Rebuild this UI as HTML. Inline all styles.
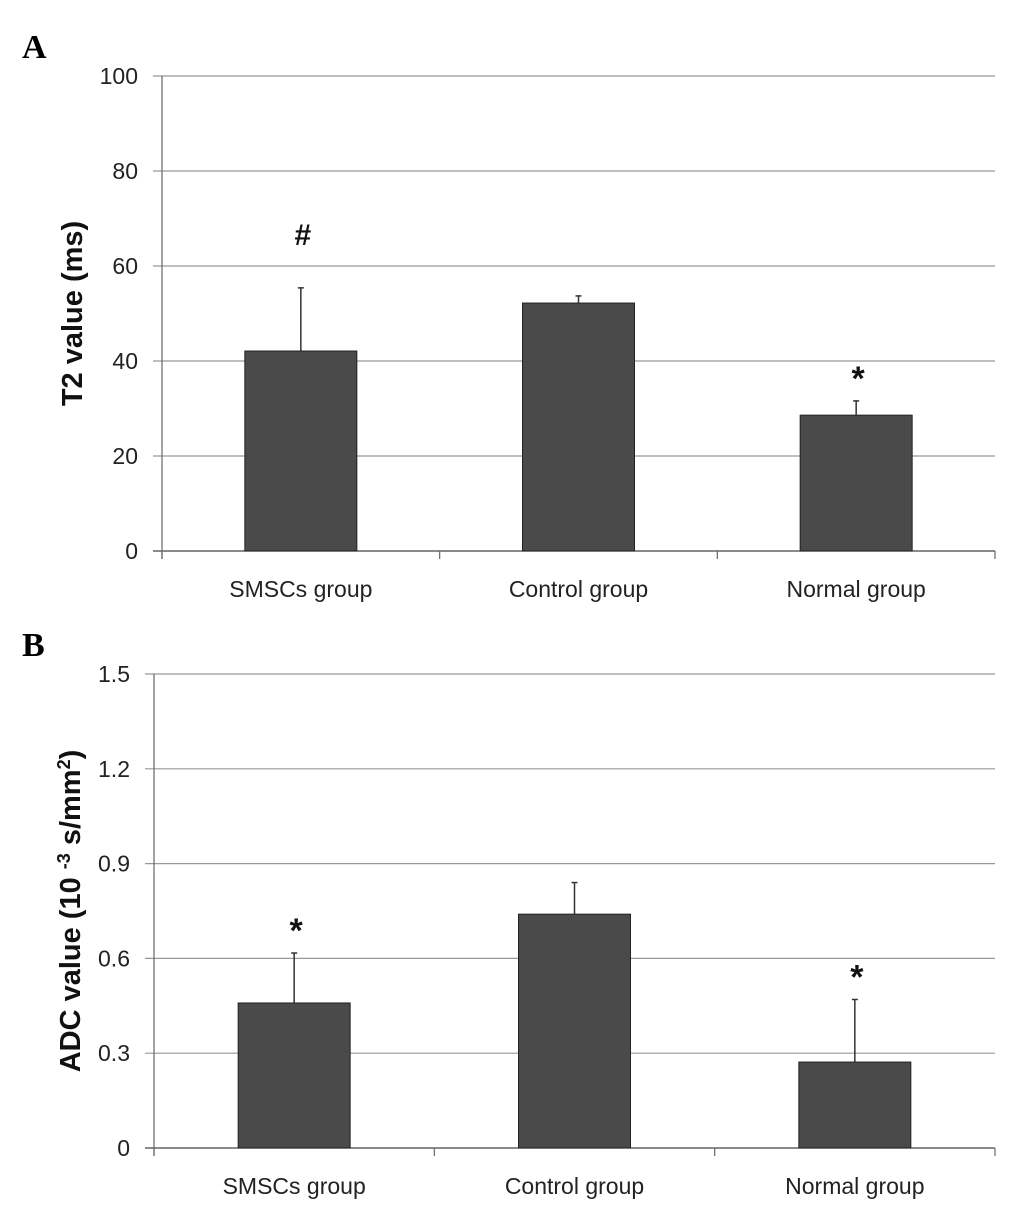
<!DOCTYPE html>
<html><head><meta charset="utf-8"><style>
body{margin:0;background:#fff;}
svg text{font-family:"Liberation Sans",sans-serif;}
</style></head><body>
<svg id="c" width="1033" height="1214" viewBox="0 0 1033 1214" xmlns="http://www.w3.org/2000/svg">
<text x="22" y="58" font-family="Liberation Serif" font-weight="bold" font-size="34" style="font-family:'Liberation Serif',serif">A</text>
<text x="22" y="656" font-family="Liberation Serif" font-weight="bold" font-size="34" style="font-family:'Liberation Serif',serif">B</text>
</svg>
<script>
const categories=["SMSCs group","Control group","Normal group"];
const t2Values=[42.1,52.2,28.6];
const t2Errors=[13.3,1.5,3.0];
const t2Marks=["#","","*"];
const t2Ticks=[0,20,40,60,80,100];
const adcValues=[0.459,0.74,0.272];
const adcErrors=[0.158,0.10,0.198];
const adcMarks=["*","","*"];
const adcTicks=[0,0.3,0.6,0.9,1.2,1.5];
const adcTickLabels=["0","0.3","0.6","0.9","1.2","1.5"];
const svg=document.getElementById('c');
const NS="http://www.w3.org/2000/svg";
function mk(tag,attrs,parent){const e=document.createElementNS(NS,tag);for(const k in attrs)e.setAttribute(k,attrs[k]);(parent||svg).appendChild(e);return e;}
function panel(p){
  const g=mk('g',{});
  
  
  const max=p.ticks[p.ticks.length-1];
  const y=v=>p.y0-(v/max)*(p.y0-p.y1);
  const bw=(p.x1-p.x0)/categories.length;
  const x=i=>p.x0+bw*(i+0.5);
  p.ticks.forEach((t,i)=>{
    const l=mk('line',{x1:p.x0-9,x2:p.x1,y1:y(t),y2:y(t),stroke:i==0?'#444':'#999','stroke-width':1.2},g);
    
    
    const tx=mk('text',{x:p.x0-24,y:y(t)+8,'text-anchor':'end','font-size':23,fill:'#222'},g);
    tx.textContent=p.tickLabels[i];
    
    
  });
  const ax=mk('line',{x1:p.x0,x2:p.x0,y1:p.y1,y2:p.y0+8,stroke:'#666','stroke-width':1.2},g);
  
  
  for(let i=0;i<=categories.length;i++){
    const tk=mk('line',{x1:p.x0+bw*i,x2:p.x0+bw*i,y1:p.y0,y2:p.y0+8,stroke:'#666','stroke-width':1.2},g);
    
    
  }
  categories.forEach((c,i)=>{
    const cx=x(i);
    const top=y(p.values[i]+p.errors[i]);
    const e=mk('line',{x1:cx,x2:cx,y1:y(p.values[i]),y2:top,stroke:'#333','stroke-width':1.5},g);
    
    
    const ec=mk('line',{x1:cx-3,x2:cx+3,y1:top,y2:top,stroke:'#333','stroke-width':1.5},g);
    
    
    const r=mk('rect',{x:cx-56,y:y(p.values[i]),width:112,height:p.y0-y(p.values[i]),fill:'#4a4a4a',stroke:'#222','stroke-width':1},g);
    
    
    const lb=mk('text',{x:cx,y:p.y0+46,'text-anchor':'middle','font-size':23,fill:'#222'},g);
    lb.textContent=c;
    
    
    if(p.marks[i]){
      const m=mk('text',{x:cx+2,y:top-(p.marks[i]=='#'?43:11),'text-anchor':'middle','font-size':p.marks[i]=='#'?30:34,'font-weight':'bold',fill:'#111'},g);
      m.textContent=p.marks[i];
      
      
    }
  });
  const tt=mk('text',{transform:`translate(${p.titleX},${(p.y0+p.y1)/2}) rotate(-90)`,'text-anchor':'middle','font-size':29,'font-weight':'bold',fill:'#111'},g);
  tt.innerHTML=p.title;
  
  
}
panel({name:'t2-chart',x0:162,x1:995,y0:551,y1:76,ticks:t2Ticks,tickLabels:t2Ticks.map(String),values:t2Values,errors:t2Errors,marks:t2Marks,titleX:82,title:'T2 value (ms)'});
panel({name:'adc-chart',x0:154,x1:995,y0:1148,y1:674,ticks:adcTicks,tickLabels:adcTickLabels,values:adcValues,errors:adcErrors,marks:adcMarks,titleX:80,title:'ADC value (10 <tspan baseline-shift="super" font-size="18">-3</tspan> s/mm<tspan baseline-shift="super" font-size="18">2</tspan>)'});
</script>
</body></html>
